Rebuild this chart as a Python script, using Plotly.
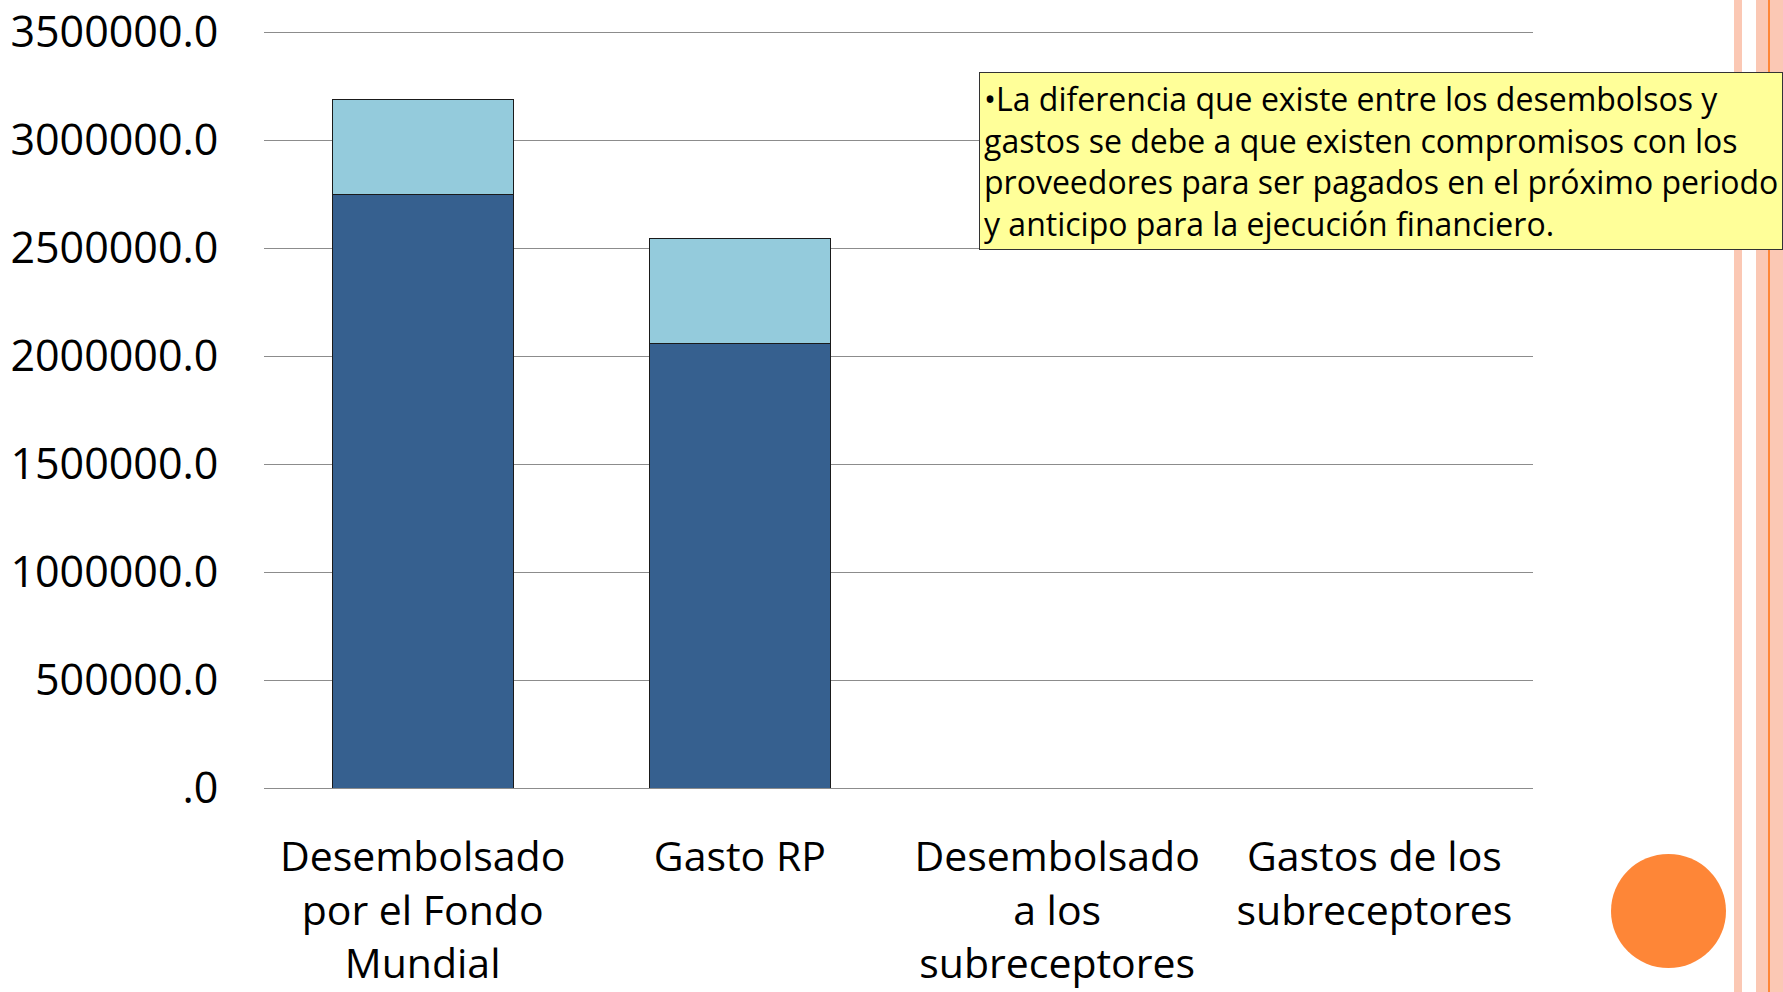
import plotly.graph_objects as go

# Categories and values
categories = [
    "Desembolsado<br>por el Fondo<br>Mundial",
    "Gasto RP",
    "Desembolsado<br>a los<br>subreceptores",
    "Gastos de los<br>subreceptores",
]
base_values = [2750000, 2057000, 0, 0]
top_values = [440000, 488000, 0, 0]

y_tickvals = [0, 500000, 1000000, 1500000, 2000000, 2500000, 3000000, 3500000]
y_ticktext = [".0", "500000.0", "1000000.0", "1500000.0", "2000000.0",
              "2500000.0", "3000000.0", "3500000.0"]

note_text = (
    "•La diferencia que existe entre los desembolsos y<br>"
    "gastos se debe a que existen compromisos con los<br>"
    "proveedores para ser pagados en el próximo periodo<br>"
    "y anticipo para la ejecución financiero."
)

W, H = 1783, 992
L, R, T, B = 264, 250, 28, 204
PW, PH = W - L - R, H - T - B


def px_x(x):
    return (x - L) / PW


def px_y(y):
    return (H - B - y) / PH


FONT = "Open Sans"

fig = go.Figure()

fig.add_trace(go.Bar(
    x=categories, y=base_values, name="Base",
    marker={"color": "#36608F", "line": {"color": "#1a1a1a", "width": 1}},
))
fig.add_trace(go.Bar(
    x=categories, y=top_values, name="Diferencia",
    marker={"color": "#94CBDC", "line": {"color": "#1a1a1a", "width": 1}},
))

# slide decorations: stripes on the right and orange circle
shapes = [
    dict(type="rect", xref="paper", yref="paper", x0=px_x(1734), x1=px_x(1742),
         y0=px_y(H + 5), y1=px_y(-5), fillcolor="#FBC8B4", line={"width": 0}, layer="below"),
    dict(type="rect", xref="paper", yref="paper", x0=px_x(1756), x1=px_x(W + 5),
         y0=px_y(H + 5), y1=px_y(-5), fillcolor="#FBC8B4", line={"width": 0}, layer="below"),
    dict(type="rect", xref="paper", yref="paper", x0=px_x(1768), x1=px_x(1770),
         y0=px_y(H + 5), y1=px_y(-5), fillcolor="#FE8637", line={"width": 0}, layer="below"),
    dict(type="circle", xref="paper", yref="paper", x0=px_x(1611), x1=px_x(1726),
         y0=px_y(968), y1=px_y(854), fillcolor="#FE8637", line={"width": 0}),
]

fig.update_layout(
    width=W,
    height=H,
    barmode="stack",
    bargap=0.43,
    showlegend=False,
    plot_bgcolor="white",
    paper_bgcolor="white",
    margin={"l": L, "r": R, "t": T, "b": B, "pad": 0},
    font={"family": FONT, "color": "black"},
    shapes=shapes,
    annotations=[
        dict(
            xref="paper", yref="paper", x=px_x(979), y=px_y(72),
            xanchor="left", yanchor="top", align="left",
            text=note_text, showarrow=False,
            font={"family": FONT, "size": 32, "color": "black"},
            bgcolor="#FFFF99", bordercolor="#333333", borderwidth=1, borderpad=4,
        )
    ],
)

fig.update_xaxes(
    tickfont={"size": 41, "family": FONT},
    ticks="outside", ticklen=33, tickcolor="rgba(0,0,0,0)",
    showline=False, showgrid=False, automargin=False,
)
fig.update_yaxes(
    range=[0, 3520000],
    tickvals=y_tickvals, ticktext=y_ticktext,
    tickfont={"size": 43, "family": FONT},
    ticks="outside", ticklen=36, tickcolor="rgba(0,0,0,0)",
    showgrid=True, gridcolor="#8C8C8C", gridwidth=1,
    zeroline=True, zerolinecolor="#8C8C8C", zerolinewidth=1,
    showline=False, automargin=False,
)

fig.write_html(
    "out.html",
    config={"displayModeBar": False},
    post_script=(
        "document.documentElement.style.overflow='hidden';"
        "document.body.style.margin='0';"
        "document.body.style.overflow='hidden';"
    ),
)
